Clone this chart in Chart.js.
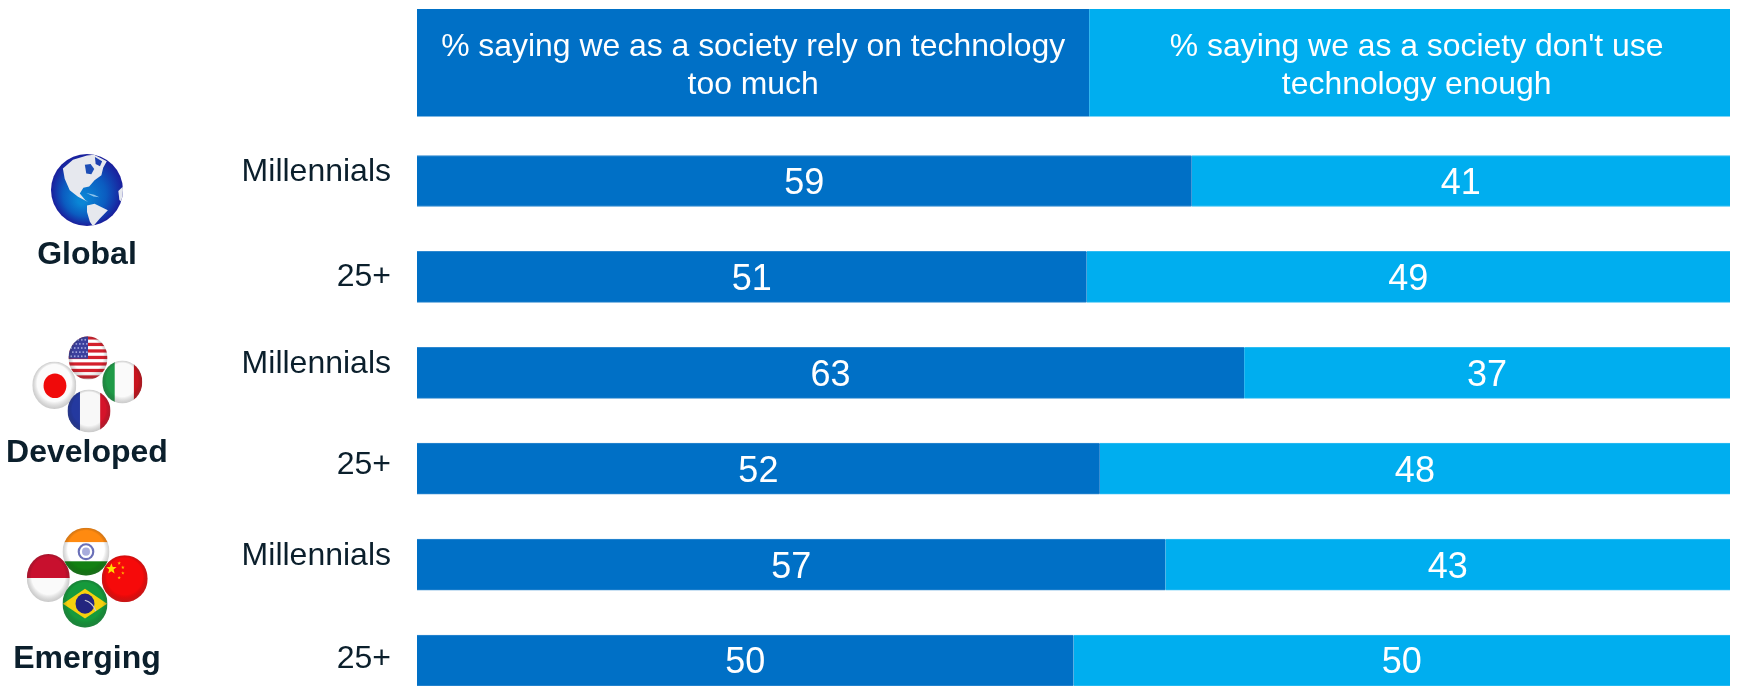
<!DOCTYPE html>
<html>
<head>
<meta charset="utf-8">
<title>Reliance on technology by generation</title>
<script src="https://cdn.jsdelivr.net/npm/chart.js@4"></script>
<style>
  html, body { margin: 0; padding: 0; background: #fff; overflow: hidden; }
  canvas { display: block; }
</style>
</head>
<body>
<canvas id="chart" width="1739" height="686"></canvas>
<script>
// Survey rows, top to bottom
const rowLabels = ['Millennials', '25+', 'Millennials', '25+', 'Millennials', '25+'];
const relyTooMuch = [59, 51, 63, 52, 57, 50];
const notEnough = [41, 49, 37, 48, 43, 50];

// Row-label anchors in row units: the labels sit a little above their bars
const rowLabelAnchors = [-0.095, 1.0, 1.91, 2.96, 3.91, 4.99];

const headerLeft = ['% saying we as a society rely on technology', 'too much'];
const headerRight = ["% saying we as a society don't use", 'technology enough'];
const headerSplit = 51.2;

const groupNames = ['Global', 'Developed', 'Emerging'];

const DARK = '#0070C6';
const DARK_EDGE = '#2E88D0';
const LIGHT = '#00AEEF';
const LIGHT_EDGE = '#2FBDF3';
const INK = '#0B1F2C';
const SANS = '"Liberation Sans", Arial, sans-serif';

// Draws inside an ellipse, clipped, then adds the glossy badge shading
function badge(ctx, cx, cy, rx, ry, paint) {
  ctx.save();
  ctx.beginPath();
  ctx.ellipse(cx, cy, rx, ry, 0, 0, Math.PI * 2);
  ctx.clip();
  ctx.translate(cx, cy);
  ctx.scale(rx, ry);
  paint(ctx);
  const shade = ctx.createRadialGradient(0, -0.1, 0.78, 0, 0, 1.02);
  shade.addColorStop(0, 'rgba(0,0,0,0)');
  shade.addColorStop(1, 'rgba(70,70,70,0.28)');
  ctx.fillStyle = shade;
  ctx.fillRect(-1, -1, 2, 2);
  ctx.restore();
}

function rect(ctx, color, x, y, w, h) {
  ctx.fillStyle = color;
  ctx.fillRect(x, y, w, h);
}

function poly(ctx, color, pts) {
  ctx.fillStyle = color;
  ctx.beginPath();
  pts.forEach((p, i) => (i ? ctx.lineTo(p[0], p[1]) : ctx.moveTo(p[0], p[1])));
  ctx.closePath();
  ctx.fill();
}

function disc(ctx, color, x, y, r) {
  ctx.fillStyle = color;
  ctx.beginPath();
  ctx.arc(x, y, r, 0, Math.PI * 2);
  ctx.fill();
}

function star(ctx, color, x, y, r) {
  const pts = [];
  for (let i = 0; i < 10; i++) {
    const a = -Math.PI / 2 + i * Math.PI / 5;
    const d = i % 2 ? r * 0.42 : r;
    pts.push([x + d * Math.cos(a), y + d * Math.sin(a)]);
  }
  poly(ctx, color, pts);
}

const flags = {
  usa(c) {
    rect(c, '#fff', -1, -1, 2, 2);
    for (let i = 0; i < 7; i++) rect(c, '#D4202C', -1, -1 + i * 0.3, 2, 0.15);
    rect(c, '#3B3F9C', -1, -1, 1, 1.03);
    c.fillStyle = '#9EA2DC';
    for (let r = 0; r < 5; r++) {
      for (let k = 0; k < 5; k++) {
        c.fillRect(-0.9 + k * 0.18 + (r % 2) * 0.08, -0.88 + r * 0.19, 0.08, 0.08);
      }
    }
  },
  japan(c) {
    rect(c, '#FBFBFB', -1, -1, 2, 2);
    disc(c, '#F00A0A', 0.03, 0.02, 0.52);
  },
  italy(c) {
    rect(c, '#FAFAFA', -1, -1, 2, 2);
    rect(c, '#1F9A47', -1, -1, 0.62, 2);
    rect(c, '#C8141E', 0.58, -1, 0.42, 2);
  },
  france(c) {
    rect(c, '#F8F8F8', -1, -1, 2, 2);
    rect(c, '#24399F', -1, -1, 0.58, 2);
    rect(c, '#D5142A', 0.52, -1, 0.48, 2);
  },
  india(c) {
    rect(c, '#fff', -1, -1, 2, 2);
    rect(c, '#FF8A10', -1, -1, 2, 0.6);
    rect(c, '#128012', -1, 0.4, 2, 0.6);
    c.strokeStyle = '#6A70B8';
    c.lineWidth = 0.09;
    c.beginPath();
    c.arc(0, 0, 0.31, 0, Math.PI * 2);
    c.stroke();
    disc(c, '#A8ACDC', 0, 0, 0.17);
  },
  indonesia(c) {
    rect(c, '#FAFAFA', -1, -1, 2, 2);
    rect(c, '#C8102E', -1, -1, 2, 1);
  },
  china(c) {
    rect(c, '#F60A0A', -1, -1, 2, 2);
    star(c, '#FFDE00', -0.58, -0.42, 0.24);
    star(c, '#FFB000', -0.24, -0.66, 0.08);
    star(c, '#FFB000', -0.08, -0.48, 0.08);
    star(c, '#FFB000', -0.08, -0.24, 0.08);
    star(c, '#FFB000', -0.24, -0.04, 0.08);
  },
  brazil(c) {
    rect(c, '#169A3C', -1, -1, 2, 2);
    poly(c, '#F6D10E', [[-0.98, 0], [0, -0.62], [0.98, 0], [0, 0.62]]);
    disc(c, '#23257F', 0, 0, 0.42);
    c.strokeStyle = '#C8C8D8';
    c.lineWidth = 0.05;
    c.beginPath();
    c.arc(-0.2, 0.55, 0.72, -1.3, -0.35);
    c.stroke();
  }
};

// Globe showing the Americas, outlines in unit-circle coordinates
function drawGlobe(ctx, cx, cy, r) {
  ctx.save();
  ctx.beginPath();
  ctx.arc(cx, cy, r, 0, Math.PI * 2);
  ctx.clip();
  ctx.translate(cx, cy);
  ctx.scale(r, r);
  const sea = ctx.createRadialGradient(-0.15, 0.3, 0.1, 0, 0, 1);
  sea.addColorStop(0, '#0A86D6');
  sea.addColorStop(0.55, '#0B5CC0');
  sea.addColorStop(1, '#1A1E9C');
  ctx.fillStyle = sea;
  ctx.fillRect(-1, -1, 2, 2);
  const land = '#E6E8EE';
  // North and Central America
  poly(ctx, land, [[-0.67, -0.6], [-0.39, -0.84], [0, -0.96], [0.2, -0.98], [0.55, -0.8], [0.45, -0.62], [0.4, -0.41],
    [0.21, -0.27], [0.06, -0.1], [-0.1, -0.06], [-0.2, 0.1], [-0.05, 0.28], [0.03, 0.33],
    [-0.25, 0.19], [-0.48, 0.01], [-0.62, -0.31]]);
  // Hudson Bay and the Arctic channels
  poly(ctx, '#1C4DB6', [[-0.06, -0.7], [0.1, -0.72], [0.2, -0.58], [0.12, -0.44], [-0.02, -0.46]]);
  poly(ctx, '#1C3FB0', [[0.22, -0.92], [0.42, -0.8], [0.36, -0.66], [0.24, -0.72]]);
  // Cuba and the Antilles
  poly(ctx, '#8FC4EC', [[-0.02, 0.08], [0.2, 0.13], [0.34, 0.2], [0.18, 0.18]]);
  // South America
  poly(ctx, land, [[0, 0.43], [0.21, 0.38], [0.58, 0.56], [0.35, 0.8], [0.17, 1.01], [0.08, 0.88], [0, 0.61]]);
  // Edge of Africa
  poly(ctx, land, [[1, -0.1], [0.87, 0.03], [0.9, 0.28], [1, 0.36]]);
  ctx.restore();
}

function drawIcons(ctx) {
  drawGlobe(ctx, 87, 190, 36);

  badge(ctx, 88, 358, 19.5, 21.7, flags.usa);
  badge(ctx, 54.3, 385.3, 22, 23.7, flags.japan);
  badge(ctx, 122.3, 382, 20, 21.5, flags.italy);
  badge(ctx, 89, 411, 21.5, 21.5, flags.france);

  badge(ctx, 48.3, 578, 21.5, 24, flags.indonesia);
  badge(ctx, 124.7, 578.7, 23, 23.5, flags.china);
  badge(ctx, 86, 551.7, 23.5, 24, flags.india);
  badge(ctx, 85, 603.7, 22.5, 24, flags.brazil);
}

// Header bands, row-group captions and the values printed on the bars
const annotations = {
  id: 'annotations',
  afterDatasetsDraw(chart) {
    const ctx = chart.ctx;
    const x = chart.scales.x;
    const left = x.getPixelForValue(0);
    const split = x.getPixelForValue(headerSplit);
    const right = x.getPixelForValue(100);
    ctx.save();

    rect(ctx, DARK, left, 9, split - left, 107.5);
    rect(ctx, LIGHT, split, 9, right - split, 107.5);
    ctx.fillStyle = '#fff';
    ctx.textAlign = 'center';
    ctx.textBaseline = 'middle';
    ctx.font = '31.9px ' + SANS;
    headerLeft.forEach((t, i) => ctx.fillText(t, (left + split) / 2, 47 + i * 38));
    headerRight.forEach((t, i) => ctx.fillText(t, (split + right) / 2 + 7, 47 + i * 38));

    ctx.font = '36px ' + SANS;
    chart.data.datasets.forEach((ds, d) => {
      chart.getDatasetMeta(d).data.forEach((bar, i) => {
        ctx.fillText(String(ds.data[i]), (bar.base + bar.x) / 2, bar.y + 3);
      });
    });

    drawIcons(ctx);

    ctx.fillStyle = INK;
    ctx.font = 'bold 32px ' + SANS;
    const captionY = [255, 453, 659];
    groupNames.forEach((t, i) => ctx.fillText(t, 87, captionY[i]));
    ctx.restore();
  }
};

const rimOnly = { top: 1, bottom: 1, left: 0, right: 0 };

new Chart(document.getElementById('chart'), {
  type: 'bar',
  data: {
    labels: rowLabels,
    datasets: [
      { label: 'Rely on technology too much', data: relyTooMuch, backgroundColor: DARK, borderColor: DARK_EDGE,
        borderWidth: rimOnly, barThickness: 51, clip: false },
      { label: "Don't use technology enough", data: notEnough, backgroundColor: LIGHT, borderColor: LIGHT_EDGE,
        borderWidth: rimOnly, barThickness: 51, clip: false }
    ]
  },
  plugins: [annotations],
  options: {
    indexAxis: 'y',
    responsive: false,
    animation: false,
    layout: { padding: { top: 181, bottom: 25.5, left: 0, right: 9 } },
    plugins: { legend: { display: false }, tooltip: { enabled: false } },
    scales: {
      x: { stacked: true, min: 0, max: 100, display: false },
      y: { stacked: true, offset: false, display: false },
      rowText: {
        type: 'linear',
        position: 'left',
        reverse: true,
        offset: false,
        min: 0,
        max: 5,
        border: { display: false },
        grid: { display: false, drawTicks: false, offset: false },
        afterBuildTicks(scale) {
          scale.ticks = rowLabelAnchors.map(value => ({ value }));
        },
        afterFit(scale) {
          scale.width = 417;
          // Labels may overhang the plot; they should not push its edges in
          scale.paddingTop = 0;
          scale.paddingBottom = 0;
        },
        ticks: {
          autoSkip: false,
          padding: 26,
          color: INK,
          font: { family: SANS, size: 32 },
          callback: (value, index) => rowLabels[index]
        }
      }
    }
  }
});
</script>
</body>
</html>
